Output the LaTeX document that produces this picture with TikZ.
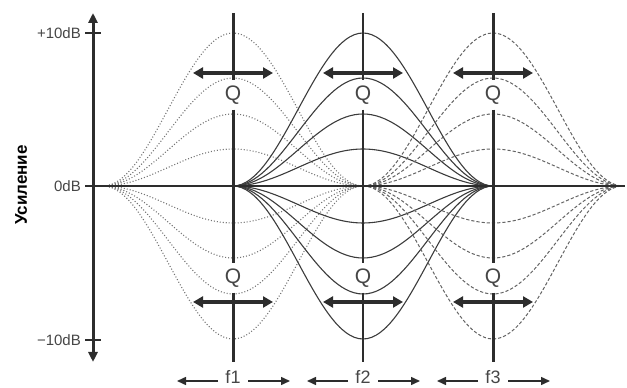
\documentclass[tikz,border=0pt]{standalone}
\usepackage{fontspec}
\setmainfont{Liberation Sans}
\usetikzlibrary{arrows.meta}
\definecolor{eq_dark}{RGB}{45, 45, 45}
\definecolor{eq_solid}{RGB}{60, 60, 60}
\definecolor{eq_dash}{RGB}{100, 100, 100}
\definecolor{eq_dot}{RGB}{115, 115, 115}
\definecolor{eq_text}{RGB}{70, 70, 70}

\begin{document}
\begin{tikzpicture}[x=1pt, y=1pt,
    axisline/.style={eq_dark, line width=3pt},
    solidcurve/.style={eq_solid, line width=1.1pt},
    dashcurve/.style={eq_dash, line width=1pt, dash pattern=on 3.2pt off 2pt},
    dotcurve/.style={eq_dot, line width=1.1pt, dash pattern=on 1pt off 2pt},
    qarrow/.style={eq_dark, line width=3.2pt, {Triangle[length=10pt,width=11pt]}-{Triangle[length=10pt,width=11pt]}},
    farrow/.style={eq_dark, line width=1.5pt, -{Triangle[length=9pt,width=8pt]}},
    qlabel/.style={inner sep=0pt, minimum height=29pt, font=\fontsize{21}{23}\selectfont, text=eq_text},
    dblabel/.style={anchor=east, inner sep=0pt, font=\fontsize{15}{17}\selectfont, text=eq_text},
    flabel/.style={inner sep=0pt, font=\fontsize{18}{20}\selectfont, text=eq_text}]

    \useasboundingbox (0,0) rectangle (627,388);

    % Bell curves for the three bands
    \foreach \cx/\sty in {233/dotcurve, 363/solidcurve, 493/dashcurve} {
      \foreach \amp in {153, 108, 72, 37} {
        \draw[\sty] (\cx-130,202) cos ++(65,\amp/2) sin ++(65,\amp/2) cos ++(65,-\amp/2) sin ++(65,-\amp/2);
        \draw[\sty] (\cx-130,202) cos ++(65,-\amp/2) sin ++(65,-\amp/2) cos ++(65,\amp/2) sin ++(65,\amp/2);
      }
    }

    % Gain axis
    \coordinate (ytop) at (93,375);
    \coordinate (ybot) at (93,26);
    \coordinate (xleft) at (93,202);
    \coordinate (xright) at (625,202);
    \draw[eq_dark, line width=1.3pt] (xleft) -- (xright);
    \draw[axisline, {Triangle[length=10pt,width=9pt]}-{Triangle[length=10pt,width=9pt]}] (ybot) -- (ytop);
    \foreach \lab/\yy in {+10dB/355, 0dB/202, −10dB/48} {
      \node[dblabel] (db\yy) at (81,\yy) {\lab};
      \draw[eq_dark, line width=1.6pt] (85,\yy) -- (101,\yy);
    }
    \node[rotate=90, font=\bfseries\fontsize{17}{19}\selectfont] (gain) at (21,203) {Усиление};

    % Band centres, Q markers and frequency labels
    \foreach \n/\cx/\lw in {1/233/3pt, 2/363/1.4pt, 3/493/3pt} {
      \coordinate (top\n) at (\cx,375);
      \coordinate (bot\n) at (\cx,26);
      \node[qlabel] (qt\n) at (\cx,293) {Q};
      \node[qlabel] (qb\n) at (\cx,110) {Q};
      \draw[eq_dark, line width=\lw] (top\n) -- (qt\n.north);
      \draw[eq_dark, line width=\lw] (qt\n.south) -- (qb\n.north);
      \draw[eq_dark, line width=\lw] (qb\n.south) -- (bot\n);

      \coordinate (qtl\n) at (\cx-40,315);
      \coordinate (qtr\n) at (\cx+40,315);
      \coordinate (qbl\n) at (\cx-40,86);
      \coordinate (qbr\n) at (\cx+40,86);
      \draw[qarrow] (qtl\n) -- (qtr\n);
      \draw[qarrow] (qbl\n) -- (qbr\n);

      \node[flabel] (f\n) at (\cx,11) {f\n};
      \coordinate (fs\n) at (\cx-15,7);
      \coordinate (fl\n) at (\cx-56,7);
      \coordinate (fe\n) at (\cx+15,7);
      \coordinate (fr\n) at (\cx+57,7);
      \draw[farrow] (fs\n) -- (fl\n);
      \draw[farrow] (fe\n) -- (fr\n);
    }

\end{tikzpicture}
\end{document}
